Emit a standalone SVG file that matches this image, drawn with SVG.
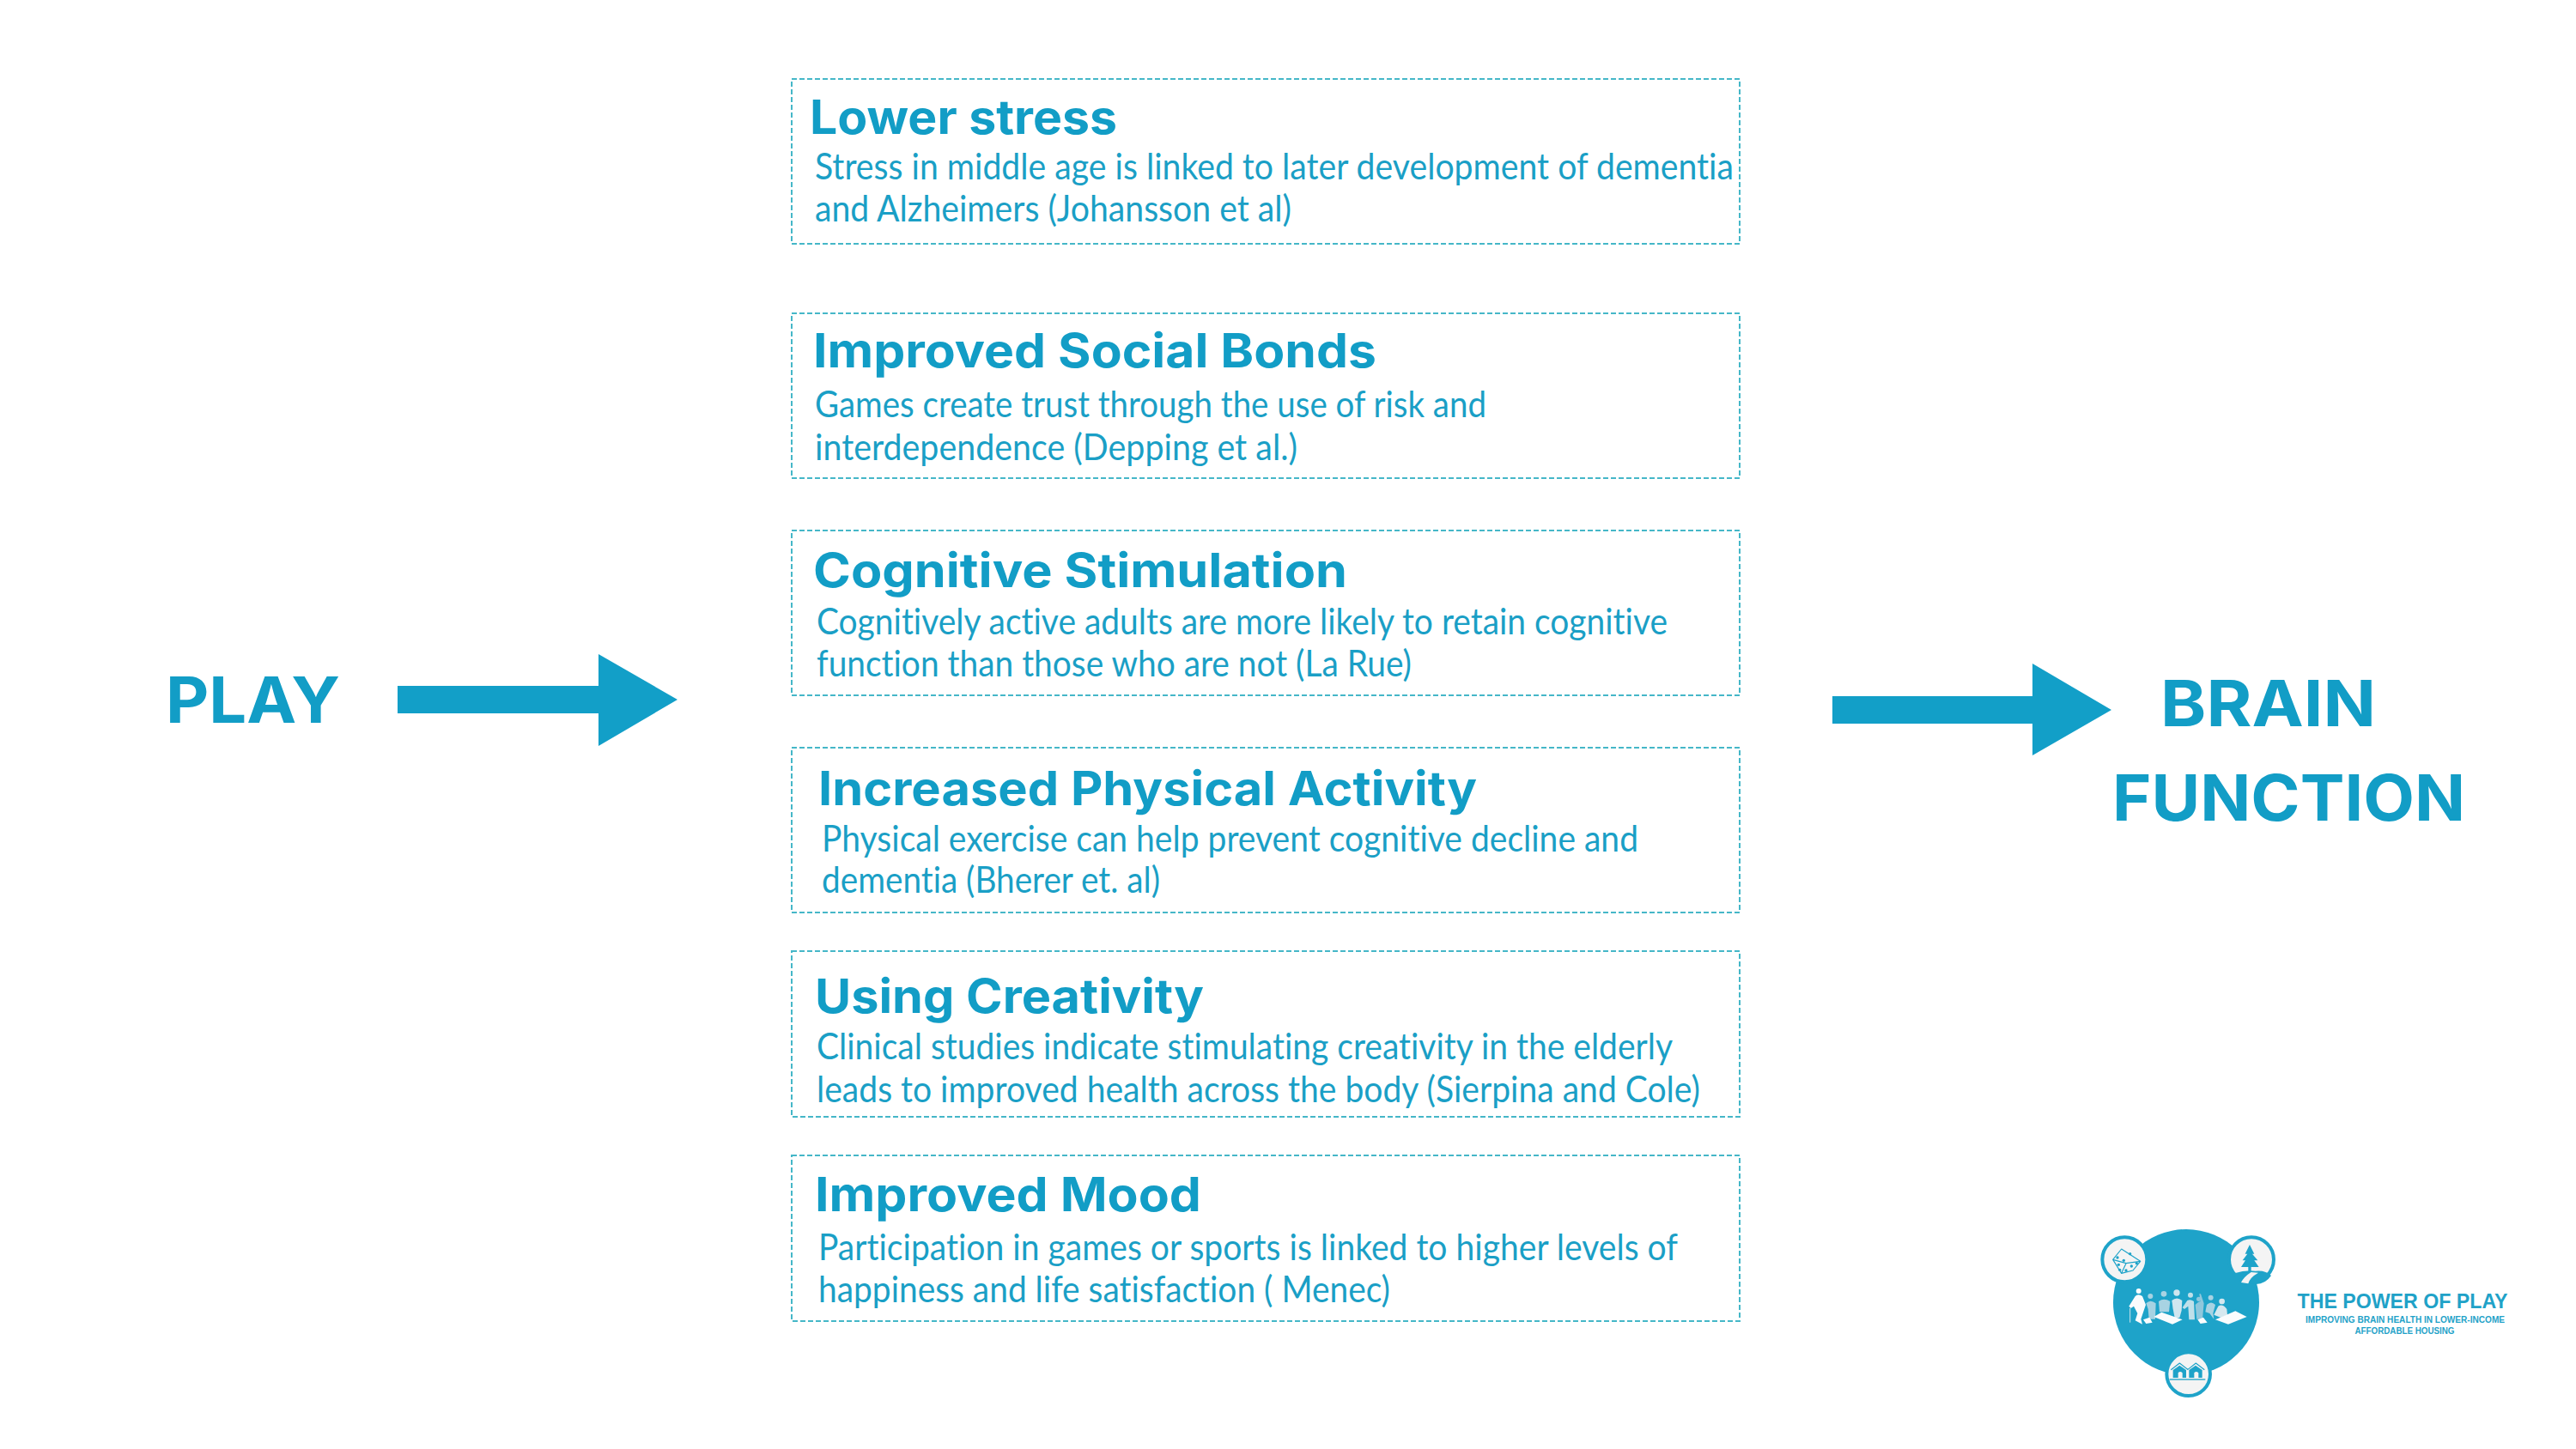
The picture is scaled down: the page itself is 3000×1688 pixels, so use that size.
<svg xmlns="http://www.w3.org/2000/svg" width="3000" height="1688" viewBox="0 0 3000 1688">
<style>
.box{fill:none;stroke:#45b7c8;stroke-width:2;stroke-dasharray:6 3}
.t{font-family:"Inter","Open Sans",sans-serif;font-weight:700;font-size:55px;fill:#129dc6}
.b{font-family:"Lato","Open Sans",sans-serif;font-size:42px;fill:#1a9fc6;font-variant-ligatures:none}
.big{font-family:"Inter","Open Sans",sans-serif;font-weight:700;font-size:74px;fill:#129dc6}
.arrow{fill:#129fc8}
.lg{font-family:"Liberation Sans",Arial,sans-serif;font-weight:700;fill:#1fa2c8}
.c{fill:#1ea3c9}
.r{fill:#f4f4f4;stroke:#1ea3c9;stroke-width:12}
.ln{fill:none;stroke:#1ea3c9;stroke-width:3.5;stroke-linejoin:round}
.wh{fill:#fafcfd}
</style>
<rect width="3000" height="1688" fill="#ffffff"/>
<g id="connectors">
<path class="arrow" d="M463 799H697V762L789 815L697 869V831H463Z"/>
<path class="arrow" d="M2134 811H2367V773L2459 827L2367 880V843H2134Z"/>
</g>
<g id="play"><text class="big" x="193" y="842" textLength="203" lengthAdjust="spacingAndGlyphs">PLAY</text></g>
<g id="brain-function">
<text class="big" x="2516" y="846" textLength="251" lengthAdjust="spacingAndGlyphs">BRAIN</text>
<text class="big" x="2460" y="956" textLength="411" lengthAdjust="spacingAndGlyphs">FUNCTION</text>
</g>
<g id="lower-stress">
<rect class="box" x="922" y="92" width="1104" height="192"/>
<text class="t" x="943" y="156" textLength="358" lengthAdjust="spacingAndGlyphs">Lower stress</text>
<text class="b" x="949" y="209" textLength="1070" lengthAdjust="spacingAndGlyphs">Stress in middle age is linked to later development of dementia</text>
<text class="b" x="949" y="258" textLength="555" lengthAdjust="spacingAndGlyphs">and Alzheimers (Johansson et al)</text>
</g>
<g id="social-bonds">
<rect class="box" x="922" y="365" width="1104" height="192"/>
<text class="t" x="947" y="428" textLength="656" lengthAdjust="spacingAndGlyphs">Improved Social Bonds</text>
<text class="b" x="949" y="486" textLength="782" lengthAdjust="spacingAndGlyphs">Games create trust through the use of risk and</text>
<text class="b" x="949" y="536" textLength="562" lengthAdjust="spacingAndGlyphs">interdependence (Depping et al.)</text>
</g>
<g id="cognitive-stimulation">
<rect class="box" x="922" y="618" width="1104" height="192"/>
<text class="t" x="947" y="684" textLength="622" lengthAdjust="spacingAndGlyphs">Cognitive Stimulation</text>
<text class="b" x="951" y="739" textLength="991" lengthAdjust="spacingAndGlyphs">Cognitively active adults are more likely to retain cognitive</text>
<text class="b" x="951" y="788" textLength="693" lengthAdjust="spacingAndGlyphs">function than those who are not (La Rue)</text>
</g>
<g id="physical-activity">
<rect class="box" x="922" y="871" width="1104" height="192"/>
<text class="t" x="953" y="938" textLength="767" lengthAdjust="spacingAndGlyphs">Increased Physical Activity</text>
<text class="b" x="957" y="992" textLength="951" lengthAdjust="spacingAndGlyphs">Physical exercise can help prevent cognitive decline and</text>
<text class="b" x="957" y="1040" textLength="394" lengthAdjust="spacingAndGlyphs">dementia (Bherer et. al)</text>
</g>
<g id="using-creativity">
<rect class="box" x="922" y="1108" width="1104" height="193"/>
<text class="t" x="949" y="1180" textLength="453" lengthAdjust="spacingAndGlyphs">Using Creativity</text>
<text class="b" x="951" y="1234" textLength="997" lengthAdjust="spacingAndGlyphs">Clinical studies indicate stimulating creativity in the elderly</text>
<text class="b" x="951" y="1284" textLength="1029" lengthAdjust="spacingAndGlyphs">leads to improved health across the body (Sierpina and Cole)</text>
</g>
<g id="improved-mood">
<rect class="box" x="922" y="1346" width="1104" height="193"/>
<text class="t" x="949" y="1411" textLength="450" lengthAdjust="spacingAndGlyphs">Improved Mood</text>
<text class="b" x="953" y="1468" textLength="1001" lengthAdjust="spacingAndGlyphs">Participation in games or sports is linked to higher levels of</text>
<text class="b" x="953" y="1517" textLength="666" lengthAdjust="spacingAndGlyphs">happiness and life satisfaction ( Menec)</text>
</g>
<g id="logo">
<ellipse class="c" cx="2546" cy="1517" rx="85" ry="85"/>
<g transform="translate(2440 1430) scale(0.3333)">
<circle class="r" cx="103" cy="112" r="78"/>
<circle class="r" cx="546" cy="112" r="78"/>
<path class="ln" d="M62 112L92 75L158 118L132 150L92 160ZM62 112L108 125L158 118M108 125L92 160"/>
<g class="c"><circle cx="122" cy="92" r="5"/><circle cx="78" cy="105" r="5"/><circle cx="100" cy="115" r="5"/><circle cx="82" cy="130" r="5"/><circle cx="86" cy="148" r="5"/><circle cx="145" cy="125" r="5"/><circle cx="127" cy="135" r="5"/><circle cx="108" cy="150" r="5"/></g>
<path class="c" d="M540 60L556 92H549L568 115H556L572 138H545V157H535V138H510L525 115H515L532 92H524Z"/>
<path class="c" d="M487 160Q525 148 560 152Q595 148 615 168Q590 205 546 196Q510 190 487 160Z"/>
<path fill="#f4f4f4" d="M545 156Q520 172 510 192L535 196Q540 175 570 158Z"/>
<path fill="#a6d2e2" d="M178 265Q193 250 212 265L210 320H188L185 285Z"/><circle fill="#a6d2e2" cx="193" cy="240" r="9"/>
<path fill="#a8d3e3" d="M222 258Q240 245 262 258L258 295H225Z"/><circle fill="#a8d3e3" cx="240" cy="232" r="10"/>
<path fill="#cfe6ef" d="M268 255Q285 240 304 255L302 290L295 315H278L272 285Z"/><circle fill="#cfe6ef" cx="285" cy="228" r="11"/>
<path fill="#bfe0ea" d="M305 280L322 255Q333 250 345 258L348 322H328L325 275L312 285Z"/><circle fill="#bfe0ea" cx="333" cy="236" r="9"/>
<path fill="#8fc7dc" d="M350 270Q362 258 368 258L364 232L369 232L380 265L375 320H355Z"/><circle fill="#8fc7dc" cx="362" cy="250" r="8"/>
<path fill="#a8d3e3" d="M390 270Q405 255 420 270L412 300L415 320L400 300L385 295Z"/><circle fill="#a8d3e3" cx="404" cy="245" r="9"/>
<path fill="#d5e8ef" d="M415 305L430 275Q445 265 460 285L462 305L440 315Z"/><circle fill="#d5e8ef" cx="443" cy="258" r="10"/>
<circle class="wh" cx="152" cy="222" r="9"/>
<path class="wh" d="M118 275L140 240Q150 230 165 240L177 270L170 290L160 320L165 338L140 325L148 300L135 275L125 282Z"/>
<path fill="none" stroke="#cfe6ef" stroke-width="3" d="M122 282V332"/>
<path class="wh" d="M205 312L232 296L305 322L270 338ZM420 322L490 292L530 312L465 338ZM168 322L190 314L200 332L178 336ZM358 322L378 314L392 332L368 336Z"/>
</g>
<g transform="translate(2500 1560) scale(0.3333)">
<circle class="r" cx="146" cy="122" r="76"/>
<path class="c" d="M92 108L115 92L138 108V135H125V118Q117 110 110 118V135H92ZM148 108L171 92L194 108V135H181V118Q173 110 166 118V135H148Z"/>
<path class="ln" d="M85 107L115 84L145 107M143 107L172 84L202 107"/>
<rect class="c" x="80" y="139" width="125" height="4"/>
</g>
<text class="lg" x="2675.500" y="1524" font-size="24.500" textLength="245" lengthAdjust="spacingAndGlyphs">THE POWER OF PLAY</text>
<text class="lg" x="2685" y="1541" font-size="10.500" textLength="232" lengthAdjust="spacingAndGlyphs">IMPROVING BRAIN HEALTH IN LOWER-INCOME</text>
<text class="lg" x="2742.500" y="1554" font-size="10.500" textLength="116" lengthAdjust="spacingAndGlyphs">AFFORDABLE HOUSING</text>
</g>
</svg>
